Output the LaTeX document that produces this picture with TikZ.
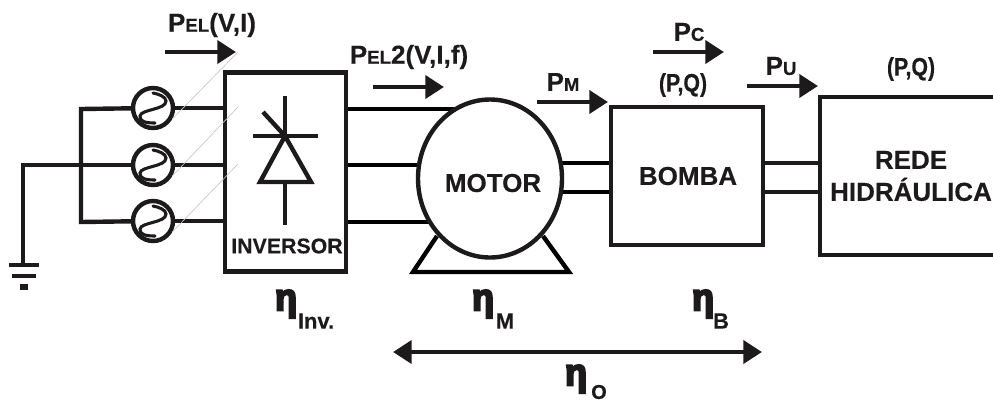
\documentclass[tikz,border=0pt]{standalone}
\usepackage{fontspec}
\setmainfont{Liberation Sans}[BoldFeatures={FakeBold=0.25}]
\newfontfamily\etafont{Liberation Sans Bold}[FakeBold=6,FakeStretch=0.95]
\newfontfamily\pqfont{Liberation Sans Bold}[FakeStretch=0.84,FakeBold=0.3]
\usetikzlibrary{arrows.meta,shapes.geometric,backgrounds}
\definecolor{inkblack}{HTML}{1C1A1A}
\newcommand{\subtxt}[1]{{\fontsize{14}{14}\selectfont #1}}

\begin{document}
\begin{tikzpicture}[
  x=0.75pt,y=-0.75pt,
  color=inkblack,
  wire/.style={line width=3.3pt},
  shaft/.style={line width=2.8pt},
  thinwire/.style={line width=2.4pt},
  ghost/.style={black!22,line width=0.5pt},
  flow/.style={line width=3.6pt,-{Triangle[length=14pt,width=17pt]}},
  both/.style={line width=3.6pt,{Triangle[length=14pt,width=17pt]}-{Triangle[length=14pt,width=17pt]}},
  block/.style={rectangle,draw,line width=3.3pt,inner sep=0pt},
  source/.style={circle,draw,line width=3.3pt,inner sep=0pt,minimum size=30pt},
  lbl/.style={inner sep=0pt,font=\fontsize{19.5}{22}\selectfont\bfseries},
  pq/.style={inner sep=0pt,font=\fontsize{19}{20}\pqfont},
  eta/.style={inner sep=0pt,font=\fontsize{28}{28}\etafont},
  effsub/.style={inner sep=0pt,font=\fontsize{16.5}{16.5}\selectfont\bfseries},
  wave/.pic={\draw[line width=2.3pt,line cap=round] (2,15) .. controls (-6,15) and (-14,14) .. (-13,8) .. controls (-12,1) and (13,2) .. (13,-7) .. controls (13,-11) and (6,-14) .. (0,-15);}
]
  \useasboundingbox (0,0) rectangle (993,405);
  % sources
  \node[source] (src1) at (153,108) {};
  \node[source] (src2) at (153,165) {};
  \node[source] (src3) at (153,221) {};
  \pic at (src1) {wave};
  \pic at (src2) {wave};
  \pic at (src3) {wave};
  \coordinate (bus1) at (81,109);
  \coordinate (bus2) at (81,165);
  \coordinate (bus3) at (81,222);
  \coordinate (gndtop) at (23,165);
  \coordinate (gnd) at (23,265);
  % blocks
  \node[block,minimum width=91pt,minimum height=149pt] (inv) at (285.5,172) {};
  \node[ellipse,draw,fill=white,line width=3.3pt,inner sep=0pt,minimum width=108pt,minimum height=118.5pt] (motor) at (490,178.5) {};
  \node[block,minimum width=114pt,minimum height=103.5pt] (bomba) at (687,176) {};
  \node[block,minimum width=136.5pt,minimum height=118.5pt] (rede) at (911,176) {};
  \node[lbl,font=\fontsize{16}{16}\selectfont\bfseries] (invtxt) at (287,246) {INVERSOR};
  \node[lbl] (motortxt) at (493,183) {MOTOR};
  \node[lbl] (bombatxt) at (688,176) {BOMBA};
  \node[lbl,align=center] (redetxt) at (911,176) {REDE\\[2pt]HIDRÁULICA};
  % wires
  \draw[wire] (src1) -- (bus1) -- (bus3) -- (src3);
  \draw[wire] (bus2) -- (src2);
  \draw[wire] (src1) -- (src1 -| inv.west);
  \draw[wire] (src2) -- (src2 -| inv.west);
  \draw[wire] (src3) -- (src3 -| inv.west);
  \draw[thinwire] (bus2) -- (gndtop) -- (gnd);
  \begin{scope}[on background layer]
    \draw[wire] (inv.east |- bus1) -- (motor.center |- bus1);
    \draw[wire] (inv.east |- bus2) -- (motor.center |- bus2);
    \draw[wire] (inv.east |- bus3) -- (motor.center |- bus3);
    \draw[wire,line join=miter] (437,236) -- (413,272) -- (569,272) -- (543,236);
    \draw[shaft] (motor.center |- 0,163) -- (bomba.west |- 0,163);
    \draw[shaft] (motor.center |- 0,192) -- (bomba.west |- 0,192);
  \end{scope}
  \draw[shaft] (bomba.east |- 0,163) -- (rede.west |- 0,163);
  \draw[shaft] (bomba.east |- 0,192) -- (rede.west |- 0,192);
  % ground
  \draw[wire] (9,265) -- (39,265);
  \draw[wire] (12,276) -- (36,276);
  \draw[line width=4pt] (20,287) -- (28,287);
  % thyristor
  \draw[wire] (285,96) -- (285,136);
  \draw[wire] (253,136) -- (318,136);
  \draw[wire] (263,112) -- (285,136);
  \draw[wire,line join=miter] (285,136) -- (311,182) -- (260,182) -- cycle;
  \draw[wire] (285,182) -- (285,225);
  % thin traces
  \coordinate (tr1) at (238,52);
  \coordinate (tr2) at (238,107);
  \coordinate (tr3) at (238,164);
  \draw[ghost] (src1.-30) -- (tr1);
  \draw[ghost] (src2.-30) -- (tr2);
  \draw[ghost] (src3.-30) -- (tr3);
  % power labels
  \node[lbl] (pel) at (212,25) {P\subtxt{EL}(V,I)};
  \coordinate (pela) at (165,52);
  \coordinate (pelb) at (236,52);
  \draw[flow] (pela) -- (pelb);
  \node[lbl] (peld) at (409,57) {P\subtxt{EL}2(V,I,f)};
  \coordinate (pelc) at (373,87);
  \coordinate (peli) at (444,87);
  \draw[flow] (pelc) -- (peli);
  \node[lbl] (pm) at (563,82) {P\subtxt{M}};
  \coordinate (pma) at (537,102);
  \coordinate (pmb) at (608,102);
  \draw[flow] (pma) -- (pmb);
  \node[lbl] (pc) at (689,32) {P\subtxt{C}};
  \coordinate (pca) at (653,52);
  \coordinate (pcb) at (724,52);
  \draw[flow] (pca) -- (pcb);
  \node[lbl] (pu) at (781,66) {P\subtxt{U}};
  \coordinate (pua) at (747,86);
  \coordinate (pub) at (818,86);
  \draw[flow] (pua) -- (pub);
  \node[pq] (pqb) at (683,85) {(P,Q)};
  \node[pq] (pqr) at (911,69) {(P,Q)};
  % efficiencies
  \node[eta] (etainv) at (286,304) {η};
  \node[effsub] (subinv) at (316,321) {Inv.};
  \node[eta] (etam) at (483,304) {η};
  \node[effsub] (subm) at (505,321) {M};
  \node[eta] (etab) at (703,304) {η};
  \node[effsub] (subb) at (721,321) {B};
  \node[eta] (etao) at (576,379) {η};
  \node[effsub,font=\fontsize{15}{15}\selectfont\bfseries] (subo) at (599,392) {O};
  \coordinate (spana) at (393,352);
  \coordinate (spanb) at (762,352);
  \draw[both] (spana) -- (spanb);
\end{tikzpicture}
\end{document}
